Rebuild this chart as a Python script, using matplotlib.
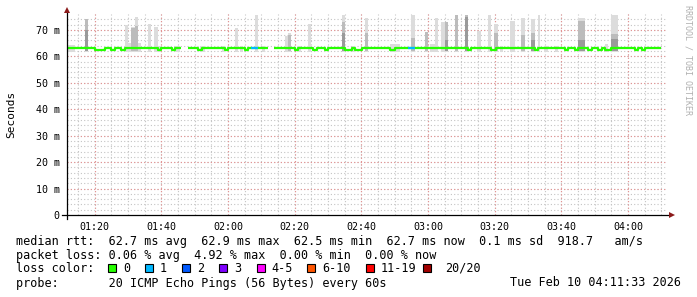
import numpy as np
import matplotlib
matplotlib.use("Agg")
import matplotlib.pyplot as plt

# =========================
# DATA (minutes after 01:11:33, values in ms)
# =========================
START_MIN = 1 * 60 + 11.55
TICK_LABELS = ["01:20", "01:40", "02:00", "02:20", "02:40", "03:00", "03:20", "03:40", "04:00"]

# median rtt as a step line: edges and the value between consecutive edges
MEDIAN_EDGES = [0, 8.4, 11.4, 13.2, 14.4, 16.2, 17.4, 27.3, 28.2, 31.5, 32.4, 34.2,
                36.3, 39.3, 40.5, 47.4, 48.3, 53.4, 54.3, 60.3,
                62.1, 68.4, 69.3, 73.8, 75.0, 77.4, 78.3, 83.4, 85.5, 86.4, 88.5,
                96.9, 98.4, 120.3, 121.2, 127.2, 128.7, 140.4, 141.3, 149.4, 150.3,
                152.4, 153.3, 156.3, 157.5, 159.3, 160.5, 161.4, 163.2, 170.4, 171.3,
                172.5, 173.4, 178.2]
MEDIAN_MS = [63.0, 62.3, 63.0, 62.3, 63.0, 62.3, 63.0, 62.3, 63.0, 62.3, 63.0, np.nan,
             63.0, 62.3, 63.0, 62.3, 63.0, 62.3, 63.0, np.nan,
             63.0, 62.3, 63.0, 62.3, 63.0, 62.3, 63.0, 62.3, 63.0, 62.3, 63.0,
             62.3, 63.0, 62.3, 63.0, 62.3, 63.0, 62.3, 63.0, 62.3, 63.0,
             62.3, 63.0, 62.3, 63.0, 62.3, 63.0, 62.3, 63.0, 62.3, 63.0,
             62.3, 63.0]

# intervals with 1/20 packet loss
LOSS1_START = [55.2, 102.3]
LOSS1_END = [57.3, 104.4]
LOSS1_MS = [63.0, 63.0]

# smoke: interval, light top, mid top, dark top (0 = none)
SMOKE_START = [0.0, 5.4, 17.4, 18.3, 19.2, 20.4, 21.3, 24.3, 26.1, 27.3, 32.4, 39.9,
               46.5, 50.4, 51.9, 56.4, 58.5, 65.4, 66.3, 69.3, 72.3, 82.5, 85.5, 89.4,
               96.9, 103.2, 107.4, 108.9, 110.4, 112.2, 113.4, 116.4, 119.4, 123.0,
               126.3, 128.1, 129.9, 132.9, 136.2, 139.2, 141.3, 143.1, 146.4, 153.3,
               161.4, 163.2]
SMOKE_END = [2.4, 6.3, 18.3, 19.5, 20.4, 21.3, 22.2, 25.2, 27.3, 28.2, 33.9, 41.4,
             47.4, 51.3, 52.8, 57.3, 59.4, 66.3, 67.2, 70.2, 73.2, 83.4, 86.4, 90.3,
             99.9, 104.4, 108.3, 110.4, 111.3, 113.4, 114.3, 117.3, 120.3, 124.2,
             127.2, 129.3, 130.8, 134.4, 137.4, 140.4, 142.2, 144.3, 147.3, 155.4,
             162.3, 165.3]
SMOKE_LIGHT = [64.3, 74.0, 72.0, 65.0, 71.0, 75.0, 65.0, 72.3, 71.2, 64.0, 64.0, 64.0,
               64.0, 70.7, 64.0, 75.7, 64.0, 67.5, 68.9, 64.0, 72.3, 75.7, 64.0, 74.6,
               64.5, 75.7, 69.3, 64.5, 74.6, 73.0, 73.0, 75.7, 75.7, 69.7,
               75.7, 72.3, 64.0, 73.5, 74.3, 74.0, 75.7, 64.0, 64.0, 74.6,
               64.5, 75.7]
SMOKE_MID = [0, 74.0, 0, 0, 70.7, 71.5, 0, 0, 0, 0, 0, 0,
             0, 0, 0, 0, 0, 0, 68.0, 0, 0, 73.0, 0, 69.0,
             0, 67.0, 69.3, 0, 0, 0, 73.0, 75.7, 75.7, 0,
             0, 69.0, 0, 0, 68.0, 69.0, 0, 0, 0, 73.5,
             0, 68.6]
SMOKE_DARK = [0, 70.0, 0, 0, 0, 0, 0, 0, 0, 0, 0, 0,
              0, 0, 0, 0, 0, 0, 0, 0, 0, 69.0, 0, 0,
              0, 0, 0, 0, 0, 0, 66.0, 0, 75.0, 0,
              0, 0, 0, 0, 0, 66.0, 0, 0, 0, 66.0,
              0, 66.5]

LOSS_LABELS = ["0", "1", "2", "3", "4-5", "6-10", "11-19", "20/20"]
LOSS_COLORS = ["#26ff00", "#00b8ff", "#0059ff", "#7e00ff", "#ff00ff", "#ff5500", "#ff0000", "#a10000"]

LINE1 = "median rtt:  62.7 ms avg  62.9 ms max  62.5 ms min  62.7 ms now  0.1 ms sd  918.7   am/s"
LINE2 = "packet loss: 0.06 % avg  4.92 % max  0.00 % min  0.00 % now"
LINE4 = "probe:       20 ICMP Echo Pings (56 Bytes) every 60s"
DATE_TEXT = "Tue Feb 10 04:11:33 2026"

# =========================
# LAYOUT
# =========================
W, H = 697, 297
X0, X1 = 66.5, 666.5
Y0, YTOP = 215, 14
YMAX = 76
MONO = "DejaVu Sans Mono"


def fx(x):
    return x / W


def fy(y):
    return 1 - y / H


def clock_to_min(s):
    h, m = s.split(":")
    return int(h) * 60 + int(m) - START_MIN


fig = plt.figure(figsize=(W / 100, H / 100), dpi=100)
fig.patch.set_facecolor("white")
ax = fig.add_axes([fx(X0), fy(Y0), (X1 - X0) / W, (Y0 - YTOP) / H])
ax.set_xlim(0, 180)
ax.set_ylim(0, YMAX)
for s in ax.spines.values():
    s.set_visible(False)

# grid
major_x = [clock_to_min(t) for t in TICK_LABELS]
minor_x = [clock_to_min("01:15") + 5 * k for k in range(36) if clock_to_min("01:15") + 5 * k < 180]
for xv in minor_x:
    ax.axvline(xv, color="#c4c4c4", lw=0.8, ls=(0, (1, 2)), zorder=0)
for yv in np.arange(2, YMAX, 2):
    ax.axhline(yv, color="#c4c4c4", lw=0.8, ls=(0, (1, 2)), zorder=0)
for xv in major_x:
    ax.axvline(xv, color="#e69090", lw=0.8, ls=(0, (1, 2)), zorder=0.5)
for yv in np.arange(10, YMAX, 10):
    ax.axhline(yv, color="#e69090", lw=0.8, ls=(0, (1, 2)), zorder=0.5)

# smoke
for s, e, lt, md, dk in zip(SMOKE_START, SMOKE_END, SMOKE_LIGHT, SMOKE_MID, SMOKE_DARK):
    ax.bar(s, lt - 61.8, width=e - s, bottom=61.8, align="edge", color="#dcdcdc", lw=0, zorder=1)
    if md:
        ax.bar(s, md - 62.0, width=e - s, bottom=62.0, align="edge", color="#bcbcbc", lw=0, zorder=1.1)
    if dk:
        ax.bar(s, dk - 62.0, width=e - s, bottom=62.0, align="edge", color="#9a9a9a", lw=0, zorder=1.2)

# median line
ax.step(MEDIAN_EDGES, MEDIAN_MS + [MEDIAN_MS[-1]], where="post", color="#26ff00",
        lw=1.6, solid_capstyle="butt", zorder=3)
for s, e, v in zip(LOSS1_START, LOSS1_END, LOSS1_MS):
    ax.plot([s, e], [v, v], color="#00b8ff", lw=1.6, solid_capstyle="butt", zorder=3.5)

# ticks
ax.set_xticks(major_x)
ax.set_xticklabels(TICK_LABELS, fontfamily=MONO, fontsize=7.2)
ax.set_yticks(np.arange(0, 71, 10))
ax.set_yticklabels(["0"] + [f"{v} m" for v in range(10, 71, 10)], fontfamily=MONO, fontsize=7.2)
ax.tick_params(axis="both", length=0, pad=5, colors="black")

# axes with arrows
fig.add_artist(plt.Line2D([fx(62), fx(670)], [fy(Y0), fy(Y0)], color="black", lw=0.9))
fig.add_artist(plt.Line2D([fx(X0), fx(X0)], [fy(219), fy(12)], color="black", lw=0.9))
fig.add_artist(plt.Line2D([fx(672)], [fy(Y0)], marker=">", ms=4, color="#8b1a1a", mew=0))
fig.add_artist(plt.Line2D([fx(X0)], [fy(10)], marker="^", ms=4, color="#8b1a1a", mew=0))

# labels
fig.text(fx(11), fy(114), "Seconds", rotation=90, ha="center", va="center",
         fontfamily=MONO, fontsize=8)
fig.text(fx(688), fy(60), "RRDTOOL / TOBI OETIKER", rotation=-90, ha="center", va="center",
         fontfamily=MONO, fontsize=6, color="#b0b0b0")

# legend text
fig.text(fx(16), fy(241), LINE1, ha="left", va="center", fontfamily=MONO, fontsize=8.5)
fig.text(fx(16), fy(255), LINE2, ha="left", va="center", fontfamily=MONO, fontsize=8.5)
fig.text(fx(16), fy(269), "loss color:", ha="left", va="center", fontfamily=MONO, fontsize=8.5)
box_x = [108, 145, 182, 219, 257, 307, 366, 423]
lab_x = [123, 160, 197, 234, 271, 322, 381, 445]
for bx, lx, lab, col in zip(box_x, lab_x, LOSS_LABELS, LOSS_COLORS):
    fig.add_artist(plt.Rectangle((fx(bx), fy(271.5)), 8 / W, 8 / H, facecolor=col,
                                 edgecolor="black", lw=0.8))
    fig.text(fx(lx), fy(268), lab, ha="left", va="center", fontfamily=MONO, fontsize=8.5)
fig.text(fx(16), fy(283), LINE4, ha="left", va="center", fontfamily=MONO, fontsize=8.5)
fig.text(fx(681), fy(283), DATE_TEXT, ha="right", va="center", fontfamily=MONO, fontsize=8.5)

fig.savefig("out.png", dpi=100, facecolor="white")
